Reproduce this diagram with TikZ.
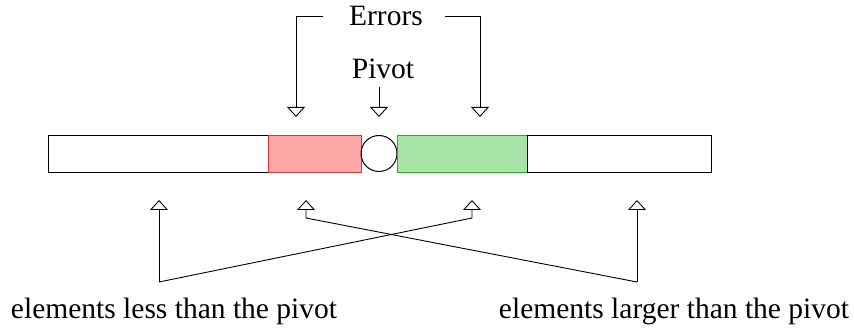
\documentclass[tikz,border=0pt]{standalone}
\usepackage{fontspec}
\setmainfont{Liberation Serif}
\usetikzlibrary{arrows.meta}
\definecolor{redfill}{HTML}{FFA8A8}
\definecolor{redline}{HTML}{F03030}
\definecolor{greenfill}{HTML}{A8E4A8}
\definecolor{greenline}{HTML}{22B422}
\begin{document}
\begin{tikzpicture}[x=1pt,y=-1pt,
  cell/.style={draw, line width=1pt, inner sep=0pt, minimum height=37pt, anchor=north west},
  lbl/.style={font=\fontsize{29.5}{32}\selectfont, inner sep=0pt},
  conn/.style={line width=0.9pt, -{Triangle[open, width=18pt, length=10pt]}}]
\useasboundingbox (0,0) rectangle (854,331);
% bar
\node[cell, minimum width=220pt] (w1) at (48,135) {};
\node[cell, draw=redline, fill=redfill, minimum width=93pt] (r) at (268,135) {};
\node[draw, line width=1pt, circle, minimum size=36pt, inner sep=0pt] (p) at (379,153.5) {};
\node[cell, draw=greenline, fill=greenfill, minimum width=130pt] (g) at (397,135) {};
\node[cell, minimum width=184pt] (w2) at (527,135) {};
% labels
\node[lbl, anchor=base] (errors) at (386,26) {Errors};
\node[lbl, anchor=base] (pivot) at (383,79) {Pivot};
\node[lbl, anchor=base] (less) at (174,318) {elements less than the pivot};
\node[lbl, anchor=base] (larger) at (674,318) {elements larger than the pivot};
% top arrows
\coordinate (e1) at (296,117);
\coordinate (e2) at (480,117);
\coordinate (pv) at (379,117);
\coordinate (ea) at (323,16);
\coordinate (eb) at (445,16);
\draw[conn] (ea) -| (e1);
\draw[conn] (eb) -| (e2);
\draw[conn] (pivot.south -| pv) ++(0,8) -- (pv);
% bottom arrows
\coordinate (b1) at (159,200);
\coordinate (b2) at (306,200);
\coordinate (b3) at (472,200);
\coordinate (b4) at (637,200);
\coordinate (l1) at (159,282);
\coordinate (l3) at (472,218);
\coordinate (m2) at (306,218);
\coordinate (l4) at (637,282);
\draw[conn] (l1) -- (l3) -- (b3);
\draw[conn] (l1) -- (b1);
\draw[conn] (l4) -- (m2) -- (b2);
\draw[conn] (l4) -- (b4);
\end{tikzpicture}
\end{document}
